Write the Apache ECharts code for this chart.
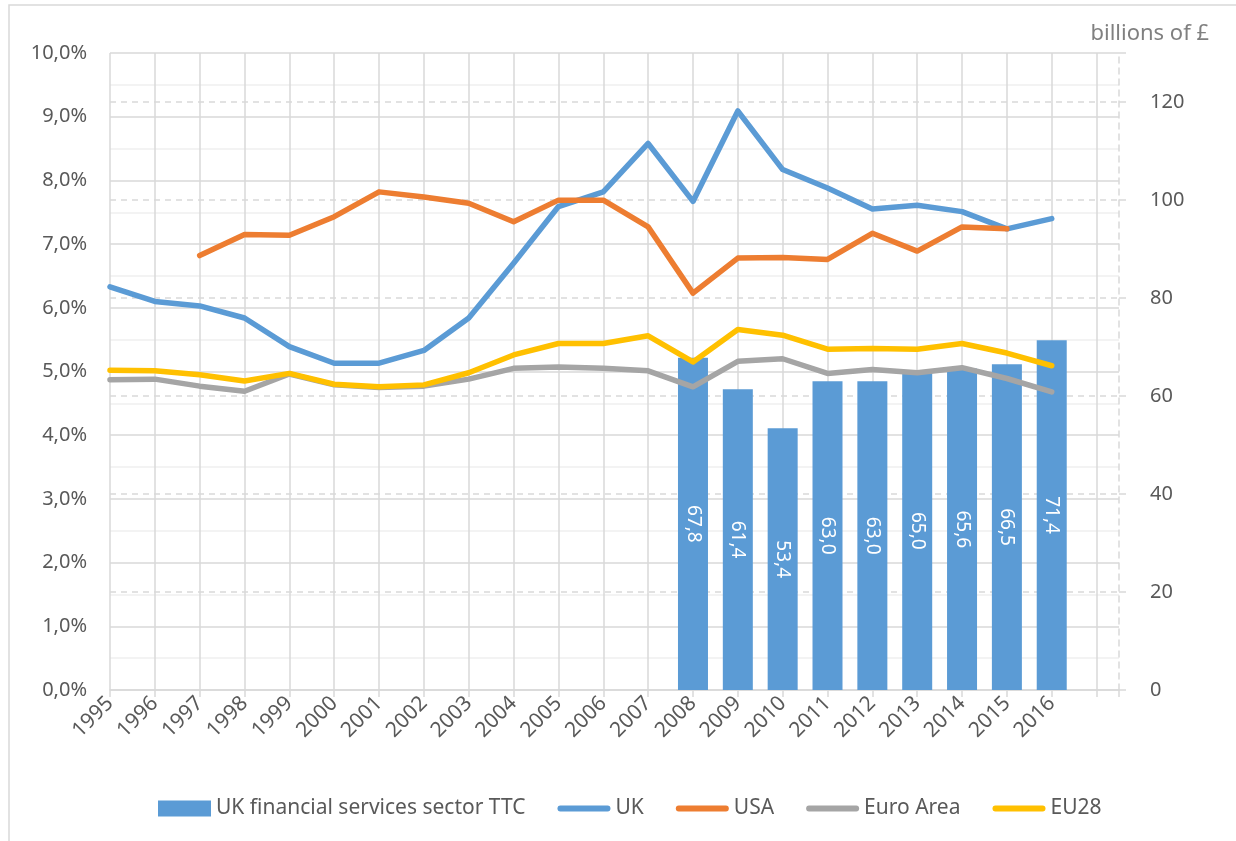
<!DOCTYPE html>
<html>
<head>
<meta charset="utf-8">
<title>UK financial services sector TTC</title>
<script src="https://cdn.jsdelivr.net/npm/echarts@6/dist/echarts.min.js"></script>
<style>
    html, body { margin: 0; padding: 0; background: #fff; }
    #chart { width: 1236px; height: 841px; }
</style>
</head>
<body>
<div id="chart"></div>
<script>
// --- Data ---
const years = [1995, 1996, 1997, 1998, 1999, 2000, 2001, 2002, 2003, 2004, 2005,
               2006, 2007, 2008, 2009, 2010, 2011, 2012, 2013, 2014, 2015, 2016];

// tax share, % (left axis)
const ukShare = [6.33, 6.10, 6.03, 5.84, 5.39, 5.13, 5.13, 5.33, 5.84, 6.70, 7.59,
                 7.82, 8.58, 7.67, 9.09, 8.17, 7.88, 7.55, 7.61, 7.51, 7.24, 7.40];
const usaShare = [null, null, 6.82, 7.15, 7.14, 7.43, 7.82, 7.74, 7.64, 7.35, 7.69,
                  7.69, 7.27, 6.23, 6.78, 6.79, 6.76, 7.17, 6.89, 7.27, 7.24, null];
const euroAreaShare = [4.87, 4.88, 4.77, 4.69, 4.96, 4.79, 4.75, 4.77, 4.88, 5.05, 5.07,
                       5.05, 5.01, 4.76, 5.16, 5.20, 4.97, 5.03, 4.98, 5.06, 4.89, 4.68];
const eu28Share = [5.02, 5.01, 4.95, 4.85, 4.97, 4.80, 4.76, 4.79, 4.98, 5.26, 5.44,
                   5.44, 5.56, 5.15, 5.66, 5.57, 5.35, 5.36, 5.35, 5.44, 5.29, 5.09];

// UK financial services sector TTC, billions of £ (right axis)
const ttcYears = [2008, 2009, 2010, 2011, 2012, 2013, 2014, 2015, 2016];
const ttcValues = [67.8, 61.4, 53.4, 63.0, 63.0, 65.0, 65.6, 66.5, 71.4];

// --- Helpers ---
const toPairs = (xs, ys) => xs.map((x, i) => [x, ys[i]]).filter(p => p[1] != null);
const comma = (v, d) => v.toFixed(d).replace('.', ',');

const gridColor = '#d9d9d9';
const textColor = '#595959';
const font = 'Noto Sans';
// flat rounded bar used as legend icon for the line series
const lineIcon = 'path://M3,0 H52 A3,3 0 0 1 52,6 H3 A3,3 0 0 1 3,0 Z';

// split line colours: hide the extra tick ECharts adds at the axis max
const xSplitColors = Array(23).fill(gridColor).concat(['transparent']);
const rightSplitColors = ['transparent'].concat(Array(6).fill(gridColor), ['transparent']);

function lineSeries(name, data, color) {
    return {
        name: name,
        type: 'line',
        data: toPairs(years, data),
        symbol: 'none',
        lineStyle: { width: 5.5, color: color, cap: 'round', join: 'round' },
        itemStyle: { color: color },
        z: 3
    };
}

const chart = echarts.init(document.getElementById('chart'), null, { renderer: 'canvas' });

chart.setOption({
    animation: false,
    backgroundColor: '#fff',
    textStyle: { fontFamily: font },
    title: {
        text: 'billions of £',
        right: 22,
        top: 18,
        textStyle: { fontFamily: font, fontSize: 22, fontWeight: 'normal', color: '#808080' }
    },
    graphic: [{
        type: 'rect',
        shape: { x: 9, y: 5, width: 1400, height: 1000 },
        style: { fill: 'none', stroke: gridColor, lineWidth: 1.5 },
        silent: true
    }],
    grid: { left: 110, right: 117, top: 53, bottom: 151 },
    legend: {
        left: 153,
        top: 793,
        itemGap: 32,
        itemWidth: 53,
        itemHeight: 16,
        textStyle: { fontFamily: font, fontSize: 21, color: textColor },
        data: [
            { name: 'UK financial services sector TTC', icon: 'rect' },
            { name: 'UK', icon: lineIcon },
            { name: 'USA', icon: lineIcon },
            { name: 'Euro Area', icon: lineIcon },
            { name: 'EU28', icon: lineIcon }
        ]
    },
    xAxis: {
        type: 'value',
        min: 1995,
        max: 2017.5,
        interval: 1,
        axisLine: { show: true, lineStyle: { color: gridColor, width: 1.5 } },
        axisTick: { show: true, length: 7, lineStyle: { color: gridColor, width: 1.5 } },
        splitLine: { show: true, lineStyle: { color: xSplitColors, width: 1.5 } },
        axisLabel: {
            rotate: 45,
            margin: 10,
            fontSize: 21,
            color: textColor,
            formatter: v => (Number.isInteger(v) && v <= 2016) ? String(v) : ''
        }
    },
    yAxis: [{
        type: 'value',
        min: 0,
        max: 10,
        interval: 1,
        axisLine: { show: false },
        axisTick: { show: false },
        axisLabel: { margin: 23, fontSize: 20, color: textColor, formatter: v => comma(v, 1) + '%' },
        splitLine: { show: true, lineStyle: { color: gridColor, width: 1.5 } },
        minorTick: { show: false, splitNumber: 2 },
        minorSplitLine: { show: true, lineStyle: { color: '#f0f0f0', width: 1.5 } }
    }, {
        type: 'value',
        position: 'right',
        min: 0,
        max: 130,
        interval: 20,
        axisLine: { show: true, lineStyle: { color: gridColor, width: 1.5, type: [6, 5] } },
        axisTick: { show: true, length: 7, lineStyle: { color: gridColor, width: 1.5 } },
        axisLabel: { margin: 31, fontSize: 20, color: textColor, formatter: v => v % 20 === 0 ? String(v) : '' },
        splitLine: { show: true, lineStyle: { color: rightSplitColors, width: 1.5, type: [6, 5] } }
    }],
    series: [
        {
            name: 'UK financial services sector TTC',
            type: 'bar',
            yAxisIndex: 1,
            barWidth: 30,
            data: toPairs(ttcYears, ttcValues),
            itemStyle: { color: '#5B9BD5' },
            label: {
                show: true,
                position: 'inside',
                rotate: -90,
                color: '#fff',
                fontSize: 19,
                fontFamily: font,
                formatter: p => comma(p.value[1], 1)
            },
            z: 2
        },
        lineSeries('UK', ukShare, '#5B9BD5'),
        lineSeries('USA', usaShare, '#ED7D31'),
        lineSeries('Euro Area', euroAreaShare, '#A5A5A5'),
        lineSeries('EU28', eu28Share, '#FFC000')
    ]
});
</script>
</body>
</html>
